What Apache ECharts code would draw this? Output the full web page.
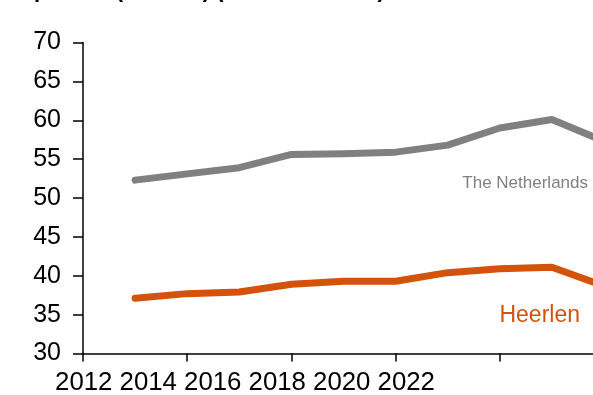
<!DOCTYPE html>
<html>
<head>
<meta charset="utf-8">
<script src="https://cdn.jsdelivr.net/npm/echarts@6/dist/echarts.min.js"></script>
<style>
  html, body { margin: 0; padding: 0; background: #fff; }
  #chart { width: 593px; height: 395px; }
</style>
</head>
<body>
<div id="chart"></div>
<script>
// Years covered by the two series
const years = [2013, 2014, 2015, 2016, 2017, 2018, 2019, 2020, 2021, 2022];
// Values per year
const netherlands = [52.3, 53.1, 53.9, 55.6, 55.7, 55.9, 56.8, 59.0, 60.1, 57.3];
const heerlen = [37.1, 37.7, 37.9, 38.9, 39.3, 39.3, 40.4, 40.9, 41.1, 38.7];
// Text under the x axis
const xTickLabels = ['2012', '2014', '2016', '2018', '2020', '2022'];
const seriesNames = ['The Netherlands', 'Heerlen'];
const titleText = 'Expenses (x €1000) (all households)';

const FONT = '"Liberation Sans", Arial, sans-serif';
const GREY = '#808080';
const ORANGE = '#d4520a';

const chart = echarts.init(document.getElementById('chart'), null, { renderer: 'canvas' });

const pair = (arr) => years.map((y, i) => [y, arr[i]]);

chart.setOption({
  animation: false,
  backgroundColor: '#ffffff',
  title: {
    text: titleText,
    left: 2,
    top: -25,
    textStyle: { fontFamily: FONT, fontSize: 22, fontWeight: 'bold', color: '#000' }
  },
  grid: [
    // plot area runs past the right edge of the page
    { left: 83, top: 42.5, width: 521, height: 311, containLabel: false, outerBoundsMode: 'none' },
    { left: 51.5, top: 353, width: 387, height: 1, containLabel: false, outerBoundsMode: 'none' }
  ],
  xAxis: [
    {
      type: 'value', gridIndex: 0, min: 2012, max: 2022, interval: 2,
      axisLine: { show: true, lineStyle: { color: '#000', width: 1.5 } },
      axisTick: { show: true, length: 8, lineStyle: { color: '#000', width: 1.5 } },
      axisLabel: { show: false },
      splitLine: { show: false }
    },
    {
      type: 'category', gridIndex: 1, data: xTickLabels, boundaryGap: true,
      axisLine: { show: false }, axisTick: { show: false }, splitLine: { show: false },
      axisLabel: { show: true, interval: 0, margin: 16, fontFamily: FONT, fontSize: 25.8, color: '#000' }
    }
  ],
  yAxis: [
    {
      type: 'value', gridIndex: 0, min: 30, max: 70, interval: 5,
      axisLine: { show: true, lineStyle: { color: '#000', width: 1.5 } },
      axisTick: { show: true, length: 10, lineStyle: { color: '#000', width: 1.5 } },
      axisLabel: { margin: 22, fontFamily: FONT, fontSize: 25, color: '#000' },
      splitLine: { show: false }
    },
    {
      type: 'value', gridIndex: 1, show: false
    }
  ],
  series: [
    {
      name: seriesNames[0], type: 'line', xAxisIndex: 0, yAxisIndex: 0,
      data: pair(netherlands), showSymbol: false, clip: false,
      lineStyle: { color: GREY, width: 7, cap: 'round', join: 'round' }
    },
    {
      name: seriesNames[1], type: 'line', xAxisIndex: 0, yAxisIndex: 0,
      data: pair(heerlen), showSymbol: false, clip: false,
      lineStyle: { color: ORANGE, width: 7, cap: 'round', join: 'round' }
    }
  ],
  graphic: [
    {
      type: 'text', right: 5, top: 175,
      style: { text: seriesNames[0], fontFamily: FONT, fontSize: 17, fill: GREY }
    },
    {
      type: 'text', right: 13, top: 304,
      style: { text: seriesNames[1], fontFamily: FONT, fontSize: 23, fill: ORANGE }
    }
  ]
});
</script>
</body>
</html>
